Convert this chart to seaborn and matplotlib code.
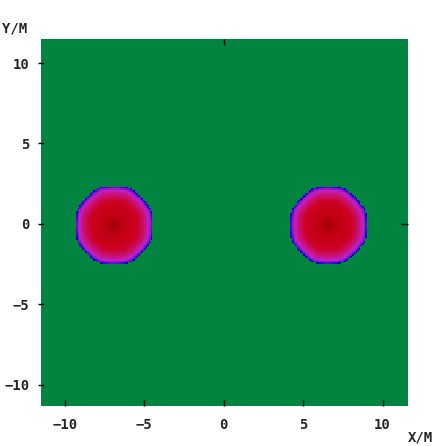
import numpy as np
import pandas as pd
import seaborn as sns
import matplotlib.pyplot as plt
import matplotlib.colors as colors

# blobs (centre and radius in metres)
blob_x = [-6.9, 6.6]
blob_y = [-0.1, -0.1]
blob_r = [2.45, 2.42]

x_lim = [-11.5, 11.6]
y_lim = [-11.3, 11.5]
step = 0.1

x_ticks = [-10, -5, 0, 5, 10]
y_ticks = [-10, -5, 0, 5, 10]
x_labels = ['\u221210', '\u22125', '0', '5', '10']
y_labels = ['\u221210', '\u22125', '0', '5', '10']

#%% field on a fine grid
xs = np.arange(x_lim[0] + step / 2, x_lim[1], step)
ys = np.arange(y_lim[1] - step / 2, y_lim[0], -step)
X, Y = np.meshgrid(xs, ys)
field = np.zeros_like(X)
for cx, cy, r in zip(blob_x, blob_y, blob_r):
    dx = np.abs(X - cx)
    dy = np.abs(Y - cy)
    d_oct = np.maximum(np.maximum(dx, dy), (dx + dy) / np.sqrt(2))
    d = 0.45 * d_oct + 0.55 * np.hypot(dx, dy)
    field = np.maximum(field, 1 - d / r)
heat = pd.DataFrame(field, index=np.round(ys, 2), columns=np.round(xs, 2))
mask = heat <= 0

blob_cmap = colors.LinearSegmentedColormap.from_list(
    'blob', [(0.0, '#0000c8'), (0.04, '#7010d0'), (0.10, '#c020c8'),
             (0.22, '#c81070'), (0.40, '#cc0020'), (0.75, '#c00010'),
             (1.0, '#a00008')])

#%% plot
sns.set_style('white')
plt.rcParams['font.family'] = ['DejaVu Sans Mono']
plt.rcParams['font.weight'] = 'bold'
fig = plt.figure(figsize=(4.46, 4.46), dpi=100)
ax = fig.add_axes([41 / 446, 1 - 405.5 / 446, 367 / 446, 366.5 / 446])
ax.set_facecolor('#008440')
sns.heatmap(heat, mask=mask, cmap=blob_cmap, vmin=0, vmax=1, cbar=False,
            xticklabels=False, yticklabels=False, ax=ax)
for s in ax.spines.values():
    s.set_visible(False)

def xpos(v):
    return (v - x_lim[0]) / step

def ypos(v):
    return (y_lim[1] - v) / step

ax.set_xticks([xpos(v) for v in x_ticks])
ax.set_xticklabels(x_labels)
ax.set_yticks([ypos(v) for v in y_ticks])
ax.set_yticklabels(y_labels, rotation=0)
ax.tick_params(axis='x', direction='in', length=4.5, width=1, color='black',
               pad=9, labelsize=10, bottom=True)
ax.tick_params(axis='y', direction='inout', length=5, width=1, color='black',
               pad=6, labelsize=10, left=True)

top = ax.secondary_xaxis('top')
top.set_xticks([xpos(0)])
top.set_xticklabels([])
top.tick_params(direction='in', length=4.5, width=1, color='black')
top.spines['top'].set_visible(False)
right = ax.secondary_yaxis('right')
right.set_yticks([ypos(0)])
right.set_yticklabels([])
right.tick_params(direction='in', length=5, width=1, color='black')
right.spines['right'].set_visible(False)

fig.text(15 / 446, 1 - 28.5 / 446, 'Y/M', ha='center', va='center', fontsize=10)
fig.text(420 / 446, 1 - 437.5 / 446, 'X/M', ha='center', va='center', fontsize=10)

fig.savefig('out.png', dpi=100)
